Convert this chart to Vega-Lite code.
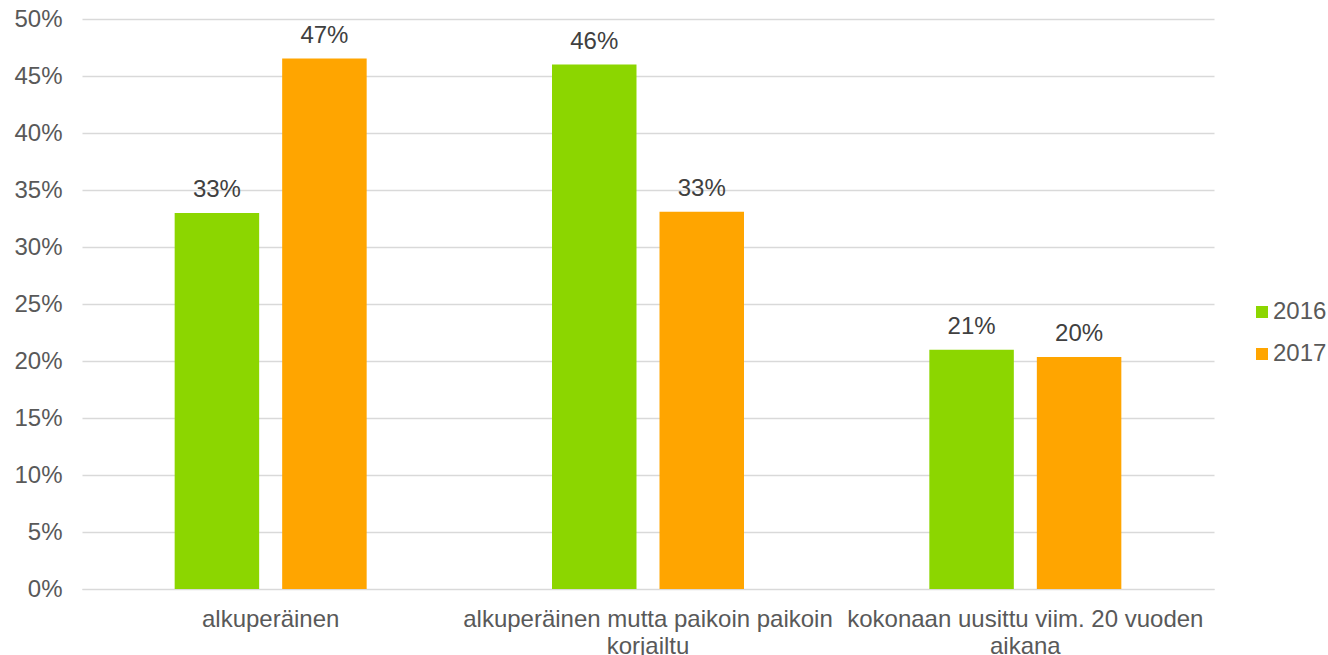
{
  "$schema": "https://vega.github.io/schema/vega-lite/v6.json",
  "width": 1132,
  "height": 570,
  "autosize": {"type": "none"},
  "padding": {"left": 82, "top": 19, "right": 114, "bottom": 66},
  "background": "white",
  "config": {
    "view": {"stroke": null},
    "font": "Liberation Sans",
    "axis": {"labelFont": "Liberation Sans", "labelFontSize": 24, "labelColor": "#595959", "ticks": false, "title": null},
    "legend": {"labelFont": "Liberation Sans", "labelFontSize": 24, "labelColor": "#595959"}
  },
  "data": {
    "values": [
      {"kategoria": "alkuperäinen", "vuosi": "2016", "osuus": 0.3298},
      {"kategoria": "alkuperäinen", "vuosi": "2017", "osuus": 0.4653},
      {"kategoria": "alkuperäinen mutta paikoin paikoin korjailtu", "vuosi": "2016", "osuus": 0.4600},
      {"kategoria": "alkuperäinen mutta paikoin paikoin korjailtu", "vuosi": "2017", "osuus": 0.3310},
      {"kategoria": "kokonaan uusittu viim. 20 vuoden aikana", "vuosi": "2016", "osuus": 0.2098},
      {"kategoria": "kokonaan uusittu viim. 20 vuoden aikana", "vuosi": "2017", "osuus": 0.2034}
    ]
  },
  "encoding": {
    "x": {
      "field": "kategoria",
      "type": "nominal",
      "sort": ["alkuperäinen", "alkuperäinen mutta paikoin paikoin korjailtu", "kokonaan uusittu viim. 20 vuoden aikana"],
      "scale": {"paddingInner": 0, "paddingOuter": 0},
      "axis": {
        "labelAngle": 0,
        "labelPadding": 18,
        "labelLimit": 600,
        "labelLineHeight": 27,
        "domain": true,
        "domainColor": "#d9d9d9",
        "domainWidth": 1,
        "grid": false,
        "labelExpr": "datum.value == 'alkuperäinen mutta paikoin paikoin korjailtu' ? ['alkuperäinen mutta paikoin paikoin', 'korjailtu'] : datum.value == 'kokonaan uusittu viim. 20 vuoden aikana' ? ['kokonaan uusittu viim. 20 vuoden', 'aikana'] : datum.value"
      }
    },
    "xOffset": {
      "field": "vuosi",
      "type": "nominal",
      "scale": {"paddingInner": 0.214, "paddingOuter": 0.862}
    },
    "y": {
      "field": "osuus",
      "type": "quantitative",
      "scale": {"domain": [0, 0.5], "nice": false},
      "axis": {
        "values": [0, 0.05, 0.1, 0.15, 0.2, 0.25, 0.3, 0.35, 0.4, 0.45, 0.5],
        "format": ".0%",
        "domain": false,
        "grid": true,
        "gridColor": "#d9d9d9",
        "gridWidth": 1.3,
        "labelPadding": 20
      }
    }
  },
  "layer": [
    {
      "mark": {"type": "bar"},
      "encoding": {
        "color": {
          "field": "vuosi",
          "type": "nominal",
          "scale": {"domain": ["2016", "2017"], "range": ["#8cd600", "#ffa500"]},
          "legend": {
            "title": null,
            "orient": "none",
            "legendX": 1168,
            "legendY": 281,
            "symbolType": "square",
            "symbolSize": 144,
            "symbolStrokeWidth": 0,
            "labelOffset": -1,
            "rowPadding": 18,
            "padding": 0
          }
        }
      }
    },
    {
      "mark": {"type": "text", "baseline": "alphabetic", "dy": -16, "fontSize": 24, "color": "#404040", "font": "Liberation Sans"},
      "encoding": {
        "text": {"field": "osuus", "type": "quantitative", "format": ".0%"}
      }
    }
  ]
}
